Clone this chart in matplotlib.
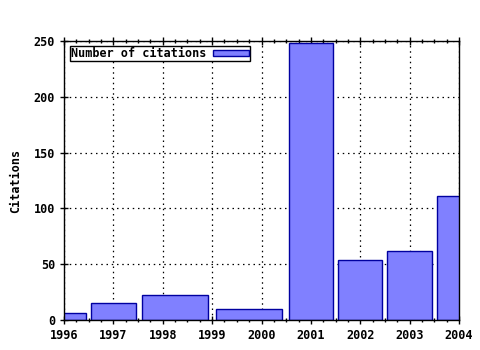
import numpy as np
import matplotlib
matplotlib.use("Agg")
import matplotlib.pyplot as plt
from matplotlib.ticker import MultipleLocator

years = np.array([1996, 1997, 1998, 2000, 2001, 2002, 2003, 2004])
citations = np.array([6, 15, 22, 10, 248, 54, 62, 111])
label = "Number of citations"

plt.rcParams['font.family'] = 'DejaVu Sans Mono'
plt.rcParams['font.weight'] = 'bold'
plt.rcParams['axes.labelweight'] = 'bold'
plt.rcParams['font.size'] = 8.5

# boxes stretch to the midpoints between neighbours, then shrink to 90%
mids = (years[1:] + years[:-1]) / 2.0
lefts = np.concatenate([[years[0] - 0.5], mids])
rights = np.concatenate([mids, [years[-1] + 0.5]])
centers = (lefts + rights) / 2.0
widths = (rights - lefts) * 0.9

fig = plt.figure(figsize=(4.8, 3.5), dpi=100)
ax = fig.add_subplot(1, 1, 1)
fig.subplots_adjust(left=64/480, right=459/480, top=1-41/350, bottom=1-320/350)

ax.bar(centers, citations, width=widths, color='#8080ff', edgecolor='#0000a0',
       linewidth=1.0, label=label, zorder=3)

ax.set_xlim(1996, 2004)
ax.set_ylim(0, 250)
ax.xaxis.set_major_locator(MultipleLocator(1))
ax.xaxis.set_minor_locator(MultipleLocator(0.25))
ax.yaxis.set_major_locator(MultipleLocator(50))
ax.grid(True, which='major', color='black', linestyle=(0, (1.2, 3)), linewidth=0.9, zorder=0)

ax.tick_params(axis='x', which='both', top=True, direction='inout')
ax.tick_params(axis='x', which='major', length=6, width=1)
ax.tick_params(axis='x', which='minor', length=3, width=1)
ax.tick_params(axis='y', which='major', direction='inout', length=6, width=1, right=False)
for s in ax.spines.values():
    s.set_linewidth(1.0)
    s.set_zorder(4)

ax.set_ylabel("Citations", labelpad=8)

leg = ax.legend(loc='upper left', markerfirst=False, fancybox=False, framealpha=1,
                edgecolor='black', borderpad=0.1, handlelength=3.0, handleheight=0.5,
                handletextpad=0.6, borderaxespad=0.3, bbox_to_anchor=(0.005, 0.995))
leg.get_frame().set_linewidth(1.0)

fig.savefig("out.png", dpi=100)
